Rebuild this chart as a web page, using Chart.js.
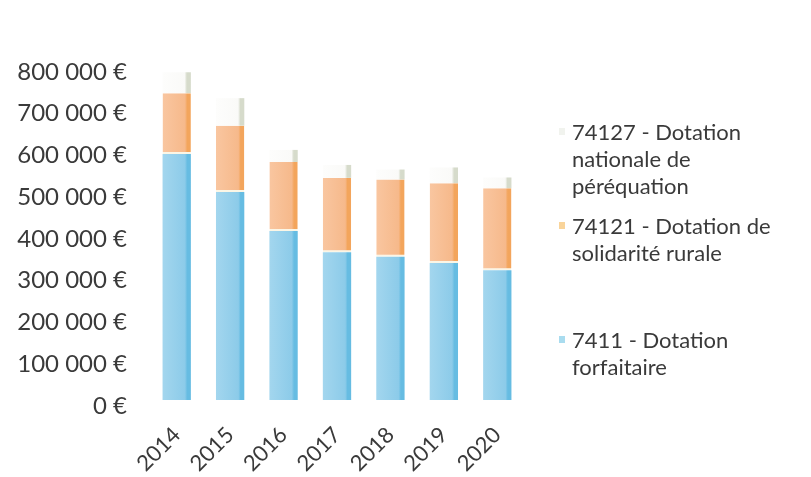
<!DOCTYPE html>
<html lang="fr">
<head>
<meta charset="utf-8">
<script src="https://cdn.jsdelivr.net/npm/chart.js@4/dist/chart.umd.min.js"></script>
<style>
  html, body { margin: 0; padding: 0; background: #fff; }
  #wrap { position: relative; width: 811px; height: 477px; }
  canvas { position: absolute; left: 0; top: 0; }
  .leg { position: absolute; left: 572px; font-family: Lato, "Open Sans", sans-serif; font-size: 22px; line-height: 27px; color: #3a3a3a; white-space: nowrap; }
  .leg i { position: absolute; left: -13px; top: 10px; width: 6px; height: 7px; }
</style>
</head>
<body>
<div id="wrap">
  <canvas id="c" width="811" height="477"></canvas>
  <div class="leg" style="top:118px"><i style="background:#f1f3ee"></i>74127 - Dotation<br>nationale de<br>péréquation</div>
  <div class="leg" style="top:212px"><i style="background:#f9d49a"></i>74121 - Dotation de<br>solidarité rurale</div>
  <div class="leg" style="top:326px"><i style="background:#a9dcef"></i>7411 - Dotation<br>forfaitaire</div>
</div>
<script>
// Exercices budgétaires
const years = ['2014', '2015', '2016', '2017', '2018', '2019', '2020'];

// 7411 - Dotation forfaitaire (€)
const dotationForfaitaire = [589000, 498000, 405000, 354000, 343000, 328000, 311000];
// 74121 - Dotation de solidarité rurale (€)
const solidariteRurale = [146000, 159000, 165000, 178000, 185000, 191000, 196000];
// 74127 - Dotation nationale de péréquation (€)
const perequation = [50000, 66000, 29000, 31000, 24000, 38000, 26000];

// Graduations de l'axe des montants
const yTickValues = [0, 100000, 200000, 300000, 400000, 500000, 600000, 700000, 800000];

const BAR_PCT = 0.53;

function euros(v) {
  return String(v).replace(/\B(?=(\d{3})+(?!\d))/g, ' ') + ' €';
}

// Remplissage avec une arête droite plus sombre, calé sur la colonne
function shaded(light, body, edge, edgeStart) {
  return (ctx) => {
    const chart = ctx.chart;
    const xs = chart.scales.x;
    if (!xs || !chart.chartArea) return body;
    const w = xs.width / years.length * BAR_PCT;
    const cx = xs.getPixelForValue(ctx.dataIndex);
    const g = chart.ctx.createLinearGradient(cx - w / 2, 0, cx + w / 2, 0);
    g.addColorStop(0, light);
    g.addColorStop(edgeStart - 0.08, body);
    g.addColorStop(edgeStart, edge);
    g.addColorStop(1, edge);
    return g;
  };
}

new Chart(document.getElementById('c'), {
  type: 'bar',
  data: {
    labels: years,
    datasets: [
      {
        label: '7411 - Dotation forfaitaire',
        data: dotationForfaitaire,
        backgroundColor: shaded('#a3d6ee', '#8ccbe9', '#66bce2', 0.87),
        borderWidth: 0
      },
      {
        label: '74121 - Dotation de solidarité rurale',
        data: solidariteRurale,
        backgroundColor: shaded('#f9c6a0', '#f6b98b', '#f3a55c', 0.87),
        borderColor: '#fbf6e6',
        borderWidth: { bottom: 2, top: 0, left: 0, right: 0 },
        borderSkipped: false
      },
      {
        label: '74127 - Dotation nationale de péréquation',
        data: perequation,
        backgroundColor: shaded('#fdfdfc', '#fafaf8', '#d6dbcb', 0.86),
        borderWidth: 0
      }
    ]
  },
  options: {
    responsive: false,
    animation: false,
    events: [],
    layout: { padding: { left: 4, right: 287, top: 66, bottom: 0 } },
    datasets: { bar: { categoryPercentage: 1, barPercentage: BAR_PCT } },
    plugins: { legend: { display: false }, tooltip: { enabled: false } },
    scales: {
      x: {
        stacked: true,
        grid: { display: false, drawTicks: false },
        border: { display: false },
        afterFit: (s) => { s.height = 77; },
        ticks: {
          minRotation: 45,
          maxRotation: 45,
          padding: 22,
          color: '#3a3a3a',
          font: { family: 'Lato, "Open Sans", sans-serif', size: 22 }
        }
      },
      y: {
        stacked: true,
        min: 0,
        max: 800000,
        grid: { display: false, drawTicks: false },
        border: { display: false },
        afterFit: (s) => { s.width = 146; },
        afterBuildTicks: (s) => { s.ticks = yTickValues.map(v => ({ value: v })); },
        ticks: {
          padding: 23,
          labelOffset: 6,
          color: '#3a3a3a',
          font: { family: 'Lato, "Open Sans", sans-serif', size: 24 },
          callback: (v) => euros(v)
        }
      }
    }
  }
});
</script>
</body>
</html>
